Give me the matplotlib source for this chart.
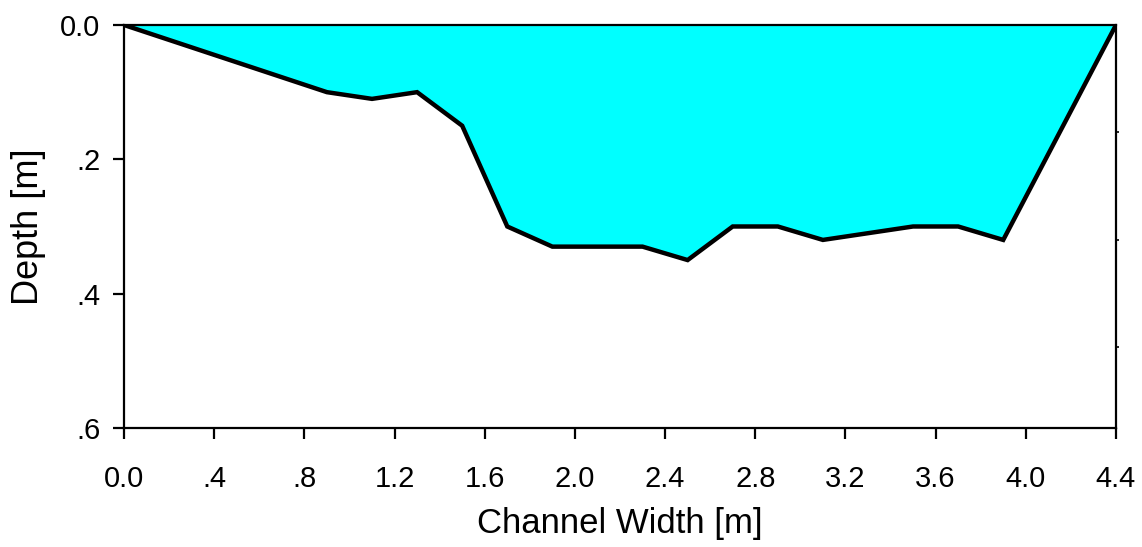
import matplotlib.pyplot as plt
from matplotlib.ticker import FixedLocator

plt.rcParams['font.family'] = ['Liberation Sans', 'DejaVu Sans']

# channel cross-section profile
width = [0.0, 0.9, 1.1, 1.3, 1.5, 1.7, 1.9, 2.1, 2.3, 2.5, 2.7, 2.9, 3.1, 3.3, 3.5, 3.7, 3.9, 4.4]
depth = [0.0, 0.10, 0.11, 0.10, 0.15, 0.30, 0.33, 0.33, 0.33, 0.35, 0.30, 0.30, 0.32, 0.31, 0.30, 0.30, 0.32, 0.0]

xticks = [0.0, 0.4, 0.8, 1.2, 1.6, 2.0, 2.4, 2.8, 3.2, 3.6, 4.0, 4.4]
xlabels = ["0.0", ".4", ".8", "1.2", "1.6", "2.0", "2.4", "2.8", "3.2", "3.6", "4.0", "4.4"]
yticks = [0.0, 0.2, 0.4, 0.6]
ylabels = ["0.0", ".2", ".4", ".6"]

fig = plt.figure(figsize=(11.42, 5.47), dpi=100)
ax = fig.add_axes([0.1086, 0.2176, 0.8686, 0.7367])

ax.fill_between(width, 0, depth, color="#00ffff", lw=0)
ax.plot(width, depth, color="black", lw=3.2, solid_joinstyle="miter")

ax.set_xlim(0, 4.4)
ax.set_ylim(0.6, 0.0)
ax.set_xticks(xticks)
ax.set_xticklabels(xlabels)
ax.set_yticks(yticks)
ax.set_yticklabels(ylabels)

for s in ax.spines.values():
    s.set_linewidth(1.6)
ax.tick_params(axis="x", direction="out", length=8, width=1.6, labelsize=21, pad=19)
ax.tick_params(axis="y", direction="out", length=8, width=1.6, labelsize=21, pad=9)

# small ticks on the right spine
ax.yaxis.set_minor_locator(FixedLocator([0.16, 0.32, 0.48]))
ax.tick_params(axis="y", which="minor", left=False, right=True, direction="out", length=2, width=1.2)

ax.set_xlabel("Channel Width [m]", fontsize=25, labelpad=10)
ax.set_ylabel("Depth [m]", fontsize=26, labelpad=10)

fig.savefig("out.png", dpi=100)
